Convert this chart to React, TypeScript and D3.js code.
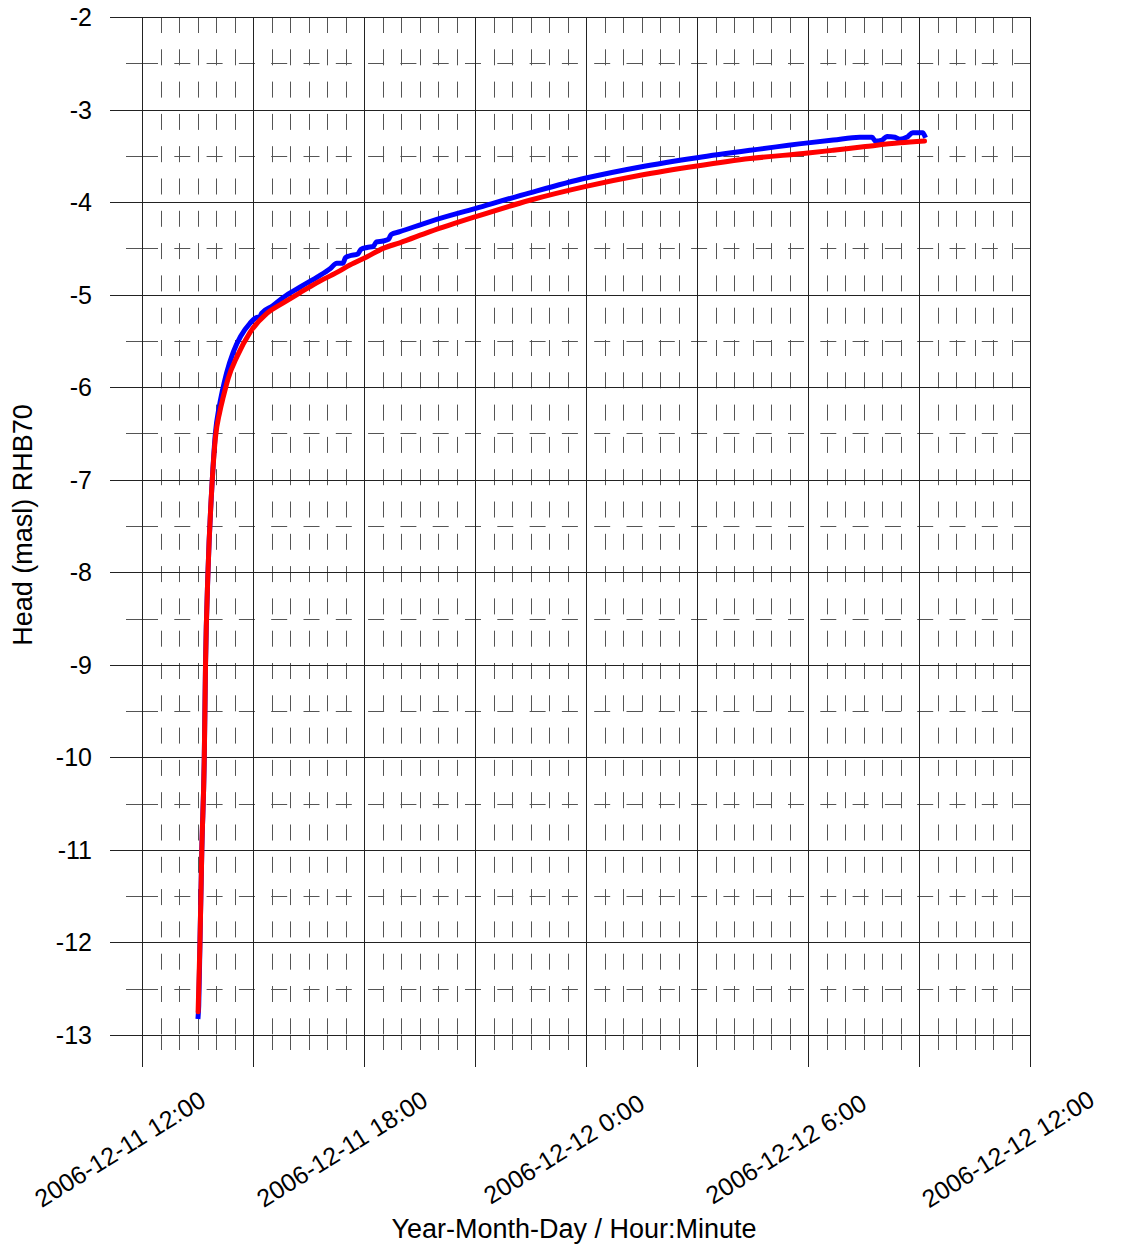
import React from "react";
import * as d3 from "d3";

const blueTimes = [
  "2006-12-11 13:31", "2006-12-11 13:32", "2006-12-11 13:34", "2006-12-11 13:37", "2006-12-11 13:41",
  "2006-12-11 13:43", "2006-12-11 13:47", "2006-12-11 13:54", "2006-12-11 13:59", "2006-12-11 14:05",
  "2006-12-11 14:10", "2006-12-11 14:17", "2006-12-11 14:28", "2006-12-11 14:40", "2006-12-11 14:55", "2006-12-11 15:05",
  "2006-12-11 15:11", "2006-12-11 15:14", "2006-12-11 15:32", "2006-12-11 15:49", "2006-12-11 16:16",
  "2006-12-11 16:44", "2006-12-11 17:05", "2006-12-11 17:16", "2006-12-11 17:26", "2006-12-11 17:30",
  "2006-12-11 17:37", "2006-12-11 17:50", "2006-12-11 17:55", "2006-12-11 18:05", "2006-12-11 18:15",
  "2006-12-11 18:20", "2006-12-11 18:31", "2006-12-11 18:40", "2006-12-11 18:44", "2006-12-11 18:58",
  "2006-12-11 19:47", "2006-12-11 21:00", "2006-12-11 22:29", "2006-12-12 00:00", "2006-12-12 01:28",
  "2006-12-12 03:00", "2006-12-12 04:26", "2006-12-12 06:00", "2006-12-12 06:41", "2006-12-12 07:24",
  "2006-12-12 07:44", "2006-12-12 07:49", "2006-12-12 08:00", "2006-12-12 08:08", "2006-12-12 08:21",
  "2006-12-12 08:29", "2006-12-12 08:40", "2006-12-12 08:50", "2006-12-12 09:06", "2006-12-12 09:09",
];
const blueValues = [
  -12.8, -12.68, -12.0, -11.0, -10.0,
  -9.0, -8.0, -7.0, -6.5, -6.22,
  -6.05, -5.85, -5.62, -5.45, -5.31, -5.25,
  -5.24, -5.2, -5.12, -5.03, -4.92,
  -4.81, -4.72, -4.66, -4.66, -4.6,
  -4.58, -4.56, -4.51, -4.49, -4.48,
  -4.43, -4.42, -4.4, -4.35, -4.32,
  -4.21, -4.07, -3.9, -3.74, -3.62,
  -3.52, -3.44, -3.36, -3.33, -3.3,
  -3.3, -3.34, -3.33, -3.29, -3.3,
  -3.32, -3.3, -3.25, -3.25, -3.28,
];

const redTimes = [
  "2006-12-11 13:31", "2006-12-11 13:34", "2006-12-11 13:37", "2006-12-11 13:41", "2006-12-11 13:43",
  "2006-12-11 13:47", "2006-12-11 13:54", "2006-12-11 13:59", "2006-12-11 14:06", "2006-12-11 14:12",
  "2006-12-11 14:20", "2006-12-11 14:34", "2006-12-11 14:55", "2006-12-11 15:23", "2006-12-11 15:49",
  "2006-12-11 16:16", "2006-12-11 16:44", "2006-12-11 17:16", "2006-12-11 17:37", "2006-12-11 18:05",
  "2006-12-11 18:31", "2006-12-11 18:58", "2006-12-11 19:47", "2006-12-11 21:00", "2006-12-11 22:29",
  "2006-12-12 00:00", "2006-12-12 01:28", "2006-12-12 03:00", "2006-12-12 04:26", "2006-12-12 06:00",
  "2006-12-12 06:41", "2006-12-12 07:33", "2006-12-12 08:29", "2006-12-12 09:09",
];
const redValues = [
  -12.75, -12.0, -11.0, -10.0, -9.0,
  -8.0, -7.0, -6.55, -6.27, -6.1,
  -5.9, -5.67, -5.41, -5.2, -5.09,
  -4.98, -4.87, -4.76, -4.68, -4.59,
  -4.5, -4.44, -4.32, -4.16, -3.98,
  -3.83, -3.71, -3.61, -3.53, -3.47,
  -3.44, -3.4, -3.36, -3.34,
];

const xDomain = ["2006-12-11 12:00", "2006-12-12 12:00"];
const yDomain = [-13, -2];
const yTickValues = [-13, -12, -11, -10, -9, -8, -7, -6, -5, -4, -3, -2];
const yTitle = "Head (masl) RHB70";
const xTitle = "Year-Month-Day / Hour:Minute";

const parse = d3.timeParse("%Y-%m-%d %H:%M");
const fmt = d3.timeFormat("%Y-%m-%d %-H:%M");

const W = 1134;
const H = 1249;
const L = 142, R = 1030, T = 17, B = 1035;
const FONT = "'Liberation Sans', Arial, sans-serif";

export default function App() {
  const x = d3.scaleTime().domain(xDomain.map((s) => parse(s) as Date)).range([L, R]);
  const y = d3.scaleLinear().domain(yDomain).range([B, T]);

  const majorX = x.ticks(d3.timeHour.every(3) as any);
  const minorX = x
    .ticks(d3.timeMinute.every(30) as any)
    .filter((d: Date) => d.getMinutes() !== 0 || d.getHours() % 3 !== 0);
  const labelX = x.ticks(d3.timeHour.every(6) as any);
  const minorY = yTickValues.slice(0, -1).map((v) => v + 0.5);

  const blue = blueTimes.map((t, i) => ({ t: parse(t) as Date, v: blueValues[i] }));
  const red = redTimes.map((t, i) => ({ t: parse(t) as Date, v: redValues[i] }));
  const line = d3
    .line<{ t: Date; v: number }>()
    .x((d) => x(d.t))
    .y((d) => y(d.v))
    .curve(d3.curveMonotoneX);

  const px = (v: number) => Math.round(v) + 0.5;
  const dash = "16 16.3";

  return (
    <div style={{ position: "absolute", left: 0, top: 0 }}>
      <svg width={W} height={H} style={{ display: "block", background: "#fff" }} fontFamily={FONT}>
        {/* minor horizontal */}
        {minorY.map((v) => (
          <g key={"mh" + v}>
            <line x1={126} x2={L} y1={px(y(v))} y2={px(y(v))} stroke="#555" />
            <line x1={L} x2={R} y1={px(y(v))} y2={px(y(v))} stroke="#555" strokeDasharray={dash} />
          </g>
        ))}
        {/* minor vertical */}
        {minorX.map((d: Date) => (
          <g key={"mv" + d.getTime()}>
            <line x1={px(x(d))} x2={px(x(d))} y1={T} y2={B} stroke="#555" strokeDasharray={dash} />
            <line x1={px(x(d))} x2={px(x(d))} y1={B} y2={1050} stroke="#555" />
          </g>
        ))}
        {/* major horizontal */}
        {yTickValues.map((v) => (
          <line key={"Mh" + v} x1={110} x2={R} y1={px(y(v))} y2={px(y(v))} stroke="#222" />
        ))}
        {/* major vertical */}
        {majorX.map((d: Date) => (
          <line key={"Mv" + d.getTime()} x1={px(x(d))} x2={px(x(d))} y1={T} y2={1067} stroke="#222" />
        ))}
        {/* y tick labels */}
        {yTickValues.map((v) => (
          <text key={"yl" + v} x={92} y={y(v)} dy="0.36em" textAnchor="end" fontSize={25} fill="#000">
            {v}
          </text>
        ))}
        {/* x tick labels */}
        {labelX.map((d: Date) => {
          const cx = x(d) - 22;
          const cy = 1149;
          return (
            <text
              key={"xl" + d.getTime()}
              x={cx}
              y={cy}
              dy="0.35em"
              textAnchor="middle"
              fontSize={25}
              fill="#000"
              transform={`rotate(-32 ${cx} ${cy})`}
            >
              {fmt(d)}
            </text>
          );
        })}
        {/* series */}
        <path d={line(blue) || ""} fill="none" stroke="#0000ff" strokeWidth={5} strokeLinejoin="round" strokeLinecap="square" />
        <path d={line(red) || ""} fill="none" stroke="#ff0000" strokeWidth={5} strokeLinejoin="round" strokeLinecap="round" />
        {/* titles */}
        <text
          x={23}
          y={525}
          dy="0.35em"
          textAnchor="middle"
          fontSize={27}
          fill="#000"
          transform="rotate(-90 23 525)"
        >
          {yTitle}
        </text>
        <text x={574} y={1238} textAnchor="middle" fontSize={27} fill="#000">
          {xTitle}
        </text>
      </svg>
    </div>
  );
}
